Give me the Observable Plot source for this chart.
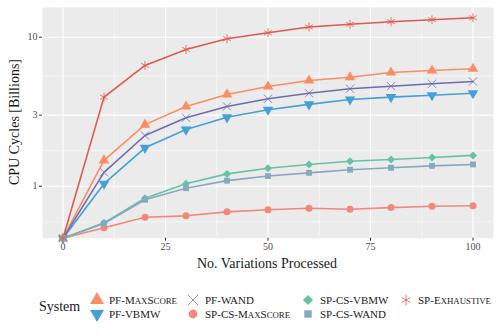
<!DOCTYPE html>
<html>
<head>
<meta charset="utf-8">
<script src="https://cdn.jsdelivr.net/npm/d3@7"></script>
<script src="https://cdn.jsdelivr.net/npm/@observablehq/plot@0.6"></script>
<style>
  html, body { margin: 0; padding: 0; background: #fff; }
  #wrap { position: relative; width: 504px; height: 333px; font-family: "Liberation Serif", serif; }
  #legend .lab { position: absolute; font-size: 11px; color: #1a1a1a; line-height: 1; transform: translateY(-50%); white-space: nowrap; }
  #legend .lab .sc { font-size: 80%; }
  #legend .title { position: absolute; font-size: 14px; color: #1a1a1a; line-height: 1; transform: translateY(-50%); }
  #legend svg { position: absolute; overflow: visible; }
  .axtitle { position: absolute; font-size: 14px; color: #1a1a1a; line-height: 1; white-space: nowrap; }
</style>
</head>
<body>
<div id="wrap"><div id="chart"></div><div id="titles"></div><div id="legend"></div></div>
<script>
// ---- data (values in billions of CPU cycles; 0 = none) ----
const variations = [0, 10, 20, 30, 40, 50, 60, 70, 80, 90, 100];
const systems = ["PF-MaxScore", "PF-VBMW", "PF-WAND", "SP-CS-MaxScore", "SP-CS-VBMW", "SP-CS-WAND", "SP-Exhaustive"];
const pfMaxScore    = [0, 1.49, 2.59, 3.43, 4.13, 4.67, 5.12, 5.39, 5.80, 5.98, 6.14];
const pfVBMW        = [0, 1.04, 1.81, 2.40, 2.90, 3.26, 3.54, 3.82, 3.96, 4.08, 4.21];
const pfWAND        = [0, 1.24, 2.19, 2.88, 3.43, 3.86, 4.21, 4.51, 4.69, 4.87, 5.04];
const spcsMaxScore  = [0, 0.526, 0.619, 0.633, 0.673, 0.695, 0.712, 0.701, 0.719, 0.734, 0.739];
const spcsVBMW      = [0, 0.568, 0.831, 1.04, 1.21, 1.32, 1.40, 1.47, 1.51, 1.56, 1.61];
const spcsWAND      = [0, 0.562, 0.811, 0.97, 1.09, 1.17, 1.23, 1.29, 1.33, 1.37, 1.40];
const spExhaustive  = [0, 3.96, 6.46, 8.27, 9.76, 10.7, 11.7, 12.2, 12.7, 13.1, 13.5];
const xTicks = [0, 25, 50, 75, 100];
const xMinorTicks = [12.5, 37.5, 62.5, 87.5];
const yTicks = [1, 3, 10];
const yMinorTicks = [Math.sqrt(1/3), Math.sqrt(3), Math.sqrt(30)];
const xTitle = "No. Variations Processed";
const yTitle = "CPU Cycles [Billions]";
const legendTitle = "System";

const seriesValues = [pfMaxScore, pfVBMW, pfWAND, spcsMaxScore, spcsVBMW, spcsWAND, spExhaustive];
const colors = ["#FC8D62", "#43A0D8", "#6C6DB0", "#F4877B", "#66C2A5", "#86A9BD", "#DE5A4F"];

const triangleDown = {
  draw(context, size) {
    const h = Math.sqrt(size / (Math.sqrt(3) * 3));
    context.moveTo(0, 2 * h);
    context.lineTo(Math.sqrt(3) * h, -h);
    context.lineTo(-Math.sqrt(3) * h, -h);
    context.closePath();
  }
};
const symbolsList = ["triangle", triangleDown, "times", "circle", "diamond2", "square", "asterisk"];
const filled = [true, true, false, true, true, true, false];
const symbolR = [3.9, 3.9, 3.8, 3.5, 3.6, 3.3, 4.2];

const yDomain = [0.448, 15.82];
const yFloor = yDomain[0];

const rows = [];
systems.forEach((s, i) => variations.forEach((x, j) => {
  const v = seriesValues[i][j];
  rows.push({system: s, idx: i, x, v, y: v === 0 ? yFloor : v});
}));

const marks = [
  Plot.frame({fill: "#EBEBEB", stroke: null}),
  Plot.gridX(xMinorTicks, {stroke: "#fff", strokeOpacity: 1, strokeWidth: 0.55}),
  Plot.gridY(yMinorTicks, {stroke: "#fff", strokeOpacity: 1, strokeWidth: 0.55}),
  Plot.gridX(xTicks, {stroke: "#fff", strokeOpacity: 1, strokeWidth: 1.1}),
  Plot.gridY(yTicks, {stroke: "#fff", strokeOpacity: 1, strokeWidth: 1.1}),
  Plot.axisX(xTicks, {tickSize: 3, tickPadding: 2, stroke: "#333", color: "#4d4d4d", fontSize: 10, label: null}),
  Plot.axisY(yTicks, {tickSize: 3, tickPadding: 2, stroke: "#333", color: "#4d4d4d", fontSize: 10, label: null, tickFormat: d => String(d)}),
];
systems.forEach((s, i) => {
  marks.push(Plot.line(rows.filter(d => d.idx === i), {x: "x", y: "y", stroke: colors[i], strokeWidth: 1.6}));
});
systems.forEach((s, i) => {
  const opt = {x: "x", y: "y", symbol: symbolsList[i], r: symbolR[i]};
  if (filled[i]) { opt.fill = colors[i]; opt.stroke = "none"; }
  else { opt.stroke = colors[i]; opt.fill = "none"; opt.strokeWidth = 0.8; }
  marks.push(Plot.dot(rows.filter(d => d.idx === i), opt));
});

const chart = Plot.plot({
  width: 504,
  height: 275,
  marginLeft: 42,
  marginRight: 11,
  marginTop: 7,
  marginBottom: 37.3,
  style: {fontFamily: "Liberation Serif, serif", background: "transparent", overflow: "visible"},
  x: {domain: [-5, 105]},
  y: {type: "log", domain: yDomain},
  marks
});
document.getElementById("chart").appendChild(chart);

// ---- axis titles ----
const titles = document.getElementById("titles");
const xt = document.createElement("div");
xt.className = "axtitle"; xt.textContent = xTitle;
xt.style.left = "267px"; xt.style.top = "264px"; xt.style.transform = "translate(-50%, -50%)";
titles.appendChild(xt);
const yt = document.createElement("div");
yt.className = "axtitle"; yt.textContent = yTitle;
yt.style.left = "15px"; yt.style.top = "122px"; yt.style.transform = "translate(-50%, -50%) rotate(-90deg)";
titles.appendChild(yt);

// ---- legend ----
const legend = document.getElementById("legend");
const t = document.createElement("div");
t.className = "title"; t.textContent = legendTitle;
t.style.left = "39px"; t.style.top = "307px";
legend.appendChild(t);
const colX = [97, 193, 308, 406];
const rowY = [299.5, 313.5];
const symTypes = [d3.symbolTriangle, triangleDown, d3.symbolTimes, d3.symbolCircle, d3.symbolDiamond2, d3.symbolSquare, d3.symbolAsterisk];
const legendSize = [5.2, 5.2, 4.6, 4.4, 4.6, 4.2, 5.0];
function smallCaps(el, text) {
  const re = /([a-z]+)|([^a-z]+)/g;
  let m;
  while ((m = re.exec(text))) {
    if (m[1]) {
      const sp = document.createElement("span");
      sp.className = "sc"; sp.textContent = m[1].toUpperCase();
      el.appendChild(sp);
    } else el.appendChild(document.createTextNode(m[2]));
  }
}
systems.forEach((s, i) => {
  const c = Math.floor(i / 2), r = i % 2;
  const cx = colX[c], cy = rowY[r];
  const svg = d3.create("svg").attr("width", 1).attr("height", 1)
    .style("left", cx + "px").style("top", cy + "px");
  const path = svg.append("path")
    .attr("d", d3.symbol(symTypes[i], Math.PI * legendSize[i] * legendSize[i])());
  if (filled[i]) path.attr("fill", colors[i]);
  else path.attr("fill", "none").attr("stroke", colors[i]).attr("stroke-width", 0.8);
  legend.appendChild(svg.node());
  const lab = document.createElement("div");
  lab.className = "lab";
  smallCaps(lab, s);
  lab.style.left = (cx + 12) + "px"; lab.style.top = cy + "px";
  legend.appendChild(lab);
});
</script>
</body>
</html>
